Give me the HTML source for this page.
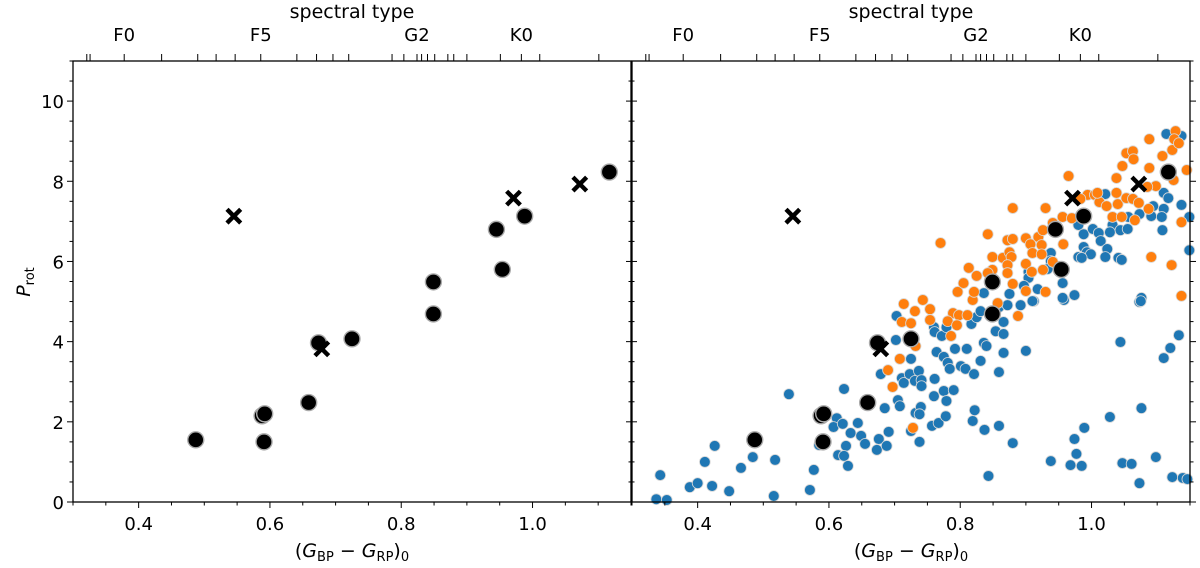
<!DOCTYPE html>
<html><head><meta charset="utf-8"><style>
html,body{margin:0;padding:0;background:#fff;}
svg{display:block;font-family:"DejaVu Sans","Liberation Sans",sans-serif;}
</style></head><body>
<svg id="chart" width="1200" height="568" viewBox="0 0 1200 568" xmlns="http://www.w3.org/2000/svg">
<g id="layer"></g>
</svg>
<script>
const xTickVals = [0.4, 0.6, 0.8, 1.0];
const xTickLabels = ["0.4", "0.6", "0.8", "1.0"];
const yTickVals = [0, 2, 4, 6, 8, 10];
const yTickLabels = ["0", "2", "4", "6", "8", "10"];
const specTickVals = [0.321,0.326,0.378,0.435,0.490,0.518,0.547,0.586,0.641,0.671,0.696,0.720,0.786,0.804,0.824,0.831,0.840,0.851,0.871,0.880,0.900,0.951,0.983,1.011,1.101];
const specLabelVals = [0.378, 0.586, 0.824, 0.983];
const specLabels = ["F0", "F5", "G2", "K0"];

const blackC = [0.487,0.588,0.592,0.591,0.659,0.674,0.725,0.849,0.849,0.945,0.954,0.988,1.117];
const blackP = [1.55,2.15,2.2,1.5,2.48,3.97,4.07,4.69,5.49,6.8,5.8,7.13,8.23];
const crossC = [0.545,0.679,0.971,1.072];
const crossP = [7.13,3.82,7.58,7.93];

const blueC = [0.337,0.353,0.343,0.388,0.400,0.422,0.411,0.426,0.448,0.466,0.484,0.518,0.516,0.539,0.577,0.571,0.585,0.612,0.607,0.621,0.623,0.633,0.626,0.614,0.623,0.629,0.644,0.649,0.655,0.673,0.676,0.688,0.691,0.685,0.705,0.708,0.679,0.711,0.714,0.703,0.702,0.725,0.723,0.725,
0.731,0.737,0.741,0.741,0.732,0.740,0.738,0.738,0.760,0.761,0.772,0.779,0.764,0.775,0.781,0.784,0.792,0.810,0.801,0.808,0.821,0.761,0.760,0.775,0.779,0.790,0.757,0.767,0.778,0.822,0.819,0.837,0.859,0.880,0.843,0.816,0.817,0.825,0.831,0.831,0.836,0.840,0.854,0.866,0.866,0.866,0.859,0.900,0.859,0.872,0.892,0.912,0.958,1.073,1.044,1.110,1.120,1.133,1.076,1.028,0.989,0.974,0.977,0.938,0.968,0.985,1.047,1.061,1.098,1.073,1.123,1.139,1.146,
1.114,1.137,1.021,1.110,1.117,1.137,1.094,1.110,1.091,1.107,1.073,1.056,1.032,1.044,1.055,1.028,1.108,1.149,0.980,0.988,1.002,1.011,1.014,0.988,0.993,0.999,0.980,0.985,1.024,1.021,1.041,1.046,0.938,0.938,0.933,0.904,0.904,0.897,0.918,0.956,0.974,0.956,0.836,0.875,0.910,1.076,1.075,1.149];
const blueP = [0.07,0.05,0.67,0.37,0.47,0.40,1.00,1.40,0.27,0.85,1.12,1.05,0.15,2.69,0.80,0.30,1.42,2.09,1.87,1.95,2.82,1.72,1.40,1.17,1.15,0.90,1.97,1.65,1.45,1.30,1.57,1.40,1.75,2.34,2.54,2.39,3.19,3.09,2.97,4.64,4.04,3.57,3.19,1.77,
3.02,3.27,3.04,2.89,2.22,2.37,2.19,1.50,4.36,4.24,4.14,4.36,3.74,3.62,3.47,3.32,3.82,3.82,3.39,3.32,3.19,3.07,2.64,2.77,2.52,2.79,1.90,1.97,2.14,2.29,2.02,1.80,1.90,1.47,0.65,4.59,4.44,4.61,4.76,3.52,3.97,3.89,4.26,4.49,4.19,3.72,3.24,3.77,4.86,4.91,4.91,5.01,5.04,4.99,3.99,3.59,3.84,4.16,2.34,2.12,1.85,1.57,1.20,1.02,0.92,0.90,0.97,0.95,1.12,0.47,0.62,0.60,0.57,
9.18,9.13,7.68,7.71,7.58,7.41,7.38,7.31,7.13,7.11,7.18,7.11,6.91,6.78,6.81,6.73,6.78,7.11,6.91,6.68,6.81,6.71,6.51,6.36,6.23,6.18,6.11,6.09,6.31,6.11,6.09,6.04,6.21,6.01,5.81,5.74,5.59,5.39,5.31,5.46,5.16,5.09,5.21,5.19,5.01,5.09,5.01,6.28];

const orangeC = [0.714,0.711,0.725,0.708,0.690,0.697,0.728,0.731,0.754,0.754,0.789,0.798,0.781,0.795,0.786,0.811,0.732,0.888,0.743,0.819,0.857,
0.770,0.842,0.880,0.930,0.965,0.872,0.880,0.900,0.907,0.919,0.926,0.941,0.956,0.970,0.957,0.924,0.910,0.924,0.849,0.865,0.875,0.878,0.872,0.872,0.900,0.909,0.926,0.941,0.849,0.842,0.813,0.825,0.805,0.796,0.821,0.880,0.900,0.930,0.994,1.005,1.012,1.023,1.040,1.053,1.063,1.072,1.038,1.047,1.053,1.063,1.064,1.088,1.088,1.108,1.123,1.128,1.126,1.133,1.145,1.125,1.098,1.085,1.032,1.046,1.066,1.087,1.137,1.091,1.122,1.137,1.038,1.009,0.983];
const orangeP = [4.94,4.49,4.46,3.57,3.29,2.87,1.85,4.76,4.81,4.54,4.71,4.66,4.51,4.41,4.14,4.66,3.89,4.64,5.04,5.04,4.96,
6.46,6.68,7.33,7.33,8.13,6.53,6.56,6.58,6.43,6.61,6.78,6.96,7.11,7.08,6.43,6.41,6.21,6.18,6.11,6.09,6.23,6.11,5.91,5.71,5.94,5.74,5.79,5.99,5.79,5.71,5.84,5.64,5.46,5.24,5.24,5.44,5.26,5.24,7.66,7.66,7.48,7.38,7.43,7.58,7.56,7.46,8.08,8.38,8.70,8.75,8.55,9.05,8.33,8.63,8.78,9.25,9.05,8.95,8.28,8.03,7.88,7.86,7.11,7.11,7.03,7.31,6.98,6.11,5.91,5.14,7.71,7.71,7.56];

const NS = "http://www.w3.org/2000/svg";
const layer = document.getElementById("layer");
const XMIN = 0.3, XMAX = 1.15, YMIN = 0, YMAX = 11;
const PW = 558, TOP = 61, BOT = 502;
function sx(c, off) { return off + (c - XMIN) / (XMAX - XMIN) * PW; }
function sy(p) { return BOT - (p - YMIN) / (YMAX - YMIN) * (BOT - TOP); }
function mk(tag, attrs, parent) {
  const e = document.createElementNS(NS, tag);
  for (const k in attrs) e.setAttribute(k, attrs[k]);
  (parent || layer).appendChild(e);
  return e;
}
function txt(s, x, y, size, anchor, parent) {
  const t = mk("text", {x: x, y: y, "font-size": size, "text-anchor": anchor || "middle", fill: "#000"}, parent);
  t.textContent = s;
  return t;
}

function panel(off, name, showY, showData) {
  const g = mk("g", {});
  
  
  const R = off + PW;
  if (showData) {
    const gb = mk("g", {}, g);
    
    
    for (let i = 0; i < blueC.length; i++) {
      const c = mk("circle", {cx: sx(blueC[i], off), cy: sy(blueP[i]), r: 5.4, fill: "#1f77b4", stroke: "#d8d8d8", "stroke-width": 0.8}, gb);
      
      
    }
    const go = mk("g", {}, g);
    
    
    for (let i = 0; i < orangeC.length; i++) {
      const c = mk("circle", {cx: sx(orangeC[i], off), cy: sy(orangeP[i]), r: 5.4, fill: "#ff7f0e", stroke: "#d8d8d8", "stroke-width": 0.8}, go);
      
      
    }
  }
  const gk = mk("g", {}, g);
  
  
  for (let i = 0; i < blackC.length; i++) {
    const c = mk("circle", {cx: sx(blackC[i], off), cy: sy(blackP[i]), r: 8, fill: "#000", stroke: "#aaa", "stroke-width": 1.4}, gk);
    
    
  }
  const gx = mk("g", {}, g);
  
  
  for (let i = 0; i < crossC.length; i++) {
    const x = sx(crossC[i], off), y = sy(crossP[i]), d = 5.3;
    const p = mk("path", {d: `M${x-d},${y-d}L${x+d},${y+d}M${x-d},${y+d}L${x+d},${y-d}`, stroke: "#000", "stroke-width": 4.4, "stroke-linecap": "square", fill: "none"}, gx);
    
    
  }
  const fr = mk("rect", {x: off, y: TOP, width: PW, height: BOT - TOP, fill: "none", stroke: "#000", "stroke-width": 1.3}, g);
  
  
  for (let k = 0; k <= 17; k++) {
    const c = XMIN + k * 0.05;
    const major = xTickVals.some(v => Math.abs(v - c) < 1e-6);
    const x = sx(c, off);
    mk("line", {x1: x, x2: x, y1: BOT, y2: BOT + (major ? 6 : 3.5), stroke: "#000", "stroke-width": 1}, g);
  }
  xTickVals.forEach((v, i) => {
    const t = txt(xTickLabels[i], sx(v, off), 530, 18, "middle", g);
    
    
  });
  for (let k = 0; k <= 22; k++) {
    const p = k * 0.5;
    const major = yTickVals.indexOf(p) >= 0;
    const y = sy(p), L = major ? 6 : 3.5;
    mk("line", {x1: off - L, x2: off, y1: y, y2: y, stroke: "#000", "stroke-width": 1}, g);
    mk("line", {x1: R, x2: R + L, y1: y, y2: y, stroke: "#000", "stroke-width": 1}, g);
  }
  if (showY) {
    yTickVals.forEach((v, i) => {
      const t = txt(yTickLabels[i], off - 9, sy(v) + 7, 18, "end", g);
      
      
    });
  }
  specTickVals.forEach(v => {
    const x = sx(v, off);
    mk("line", {x1: x, x2: x, y1: TOP, y2: TOP - 7, stroke: "#000", "stroke-width": 1}, g);
  });
  specLabelVals.forEach((v, i) => {
    const t = txt(specLabels[i], sx(v, off), 41, 18, "middle", g);
    
    
  });
  const st = txt("spectral type", off + 279, 18, 19, "middle", g);
  
  
  const xt = mk("text", {x: off + 279, y: 557, "font-size": 19, "text-anchor": "middle"}, g);
  
  
  xt.innerHTML = '(<tspan font-style="italic">G</tspan><tspan font-size="13" dy="4">BP</tspan><tspan dy="-4"> − </tspan><tspan font-style="italic">G</tspan><tspan font-size="13" dy="4">RP</tspan><tspan dy="-4">)</tspan><tspan font-size="13" dy="4">0</tspan>';
}

panel(73, "left-panel", true, false);
panel(632, "right-panel", false, true);

const yl = mk("text", {x: 0, y: 0, "font-size": 19, "text-anchor": "middle", transform: "translate(30,282) rotate(-90)"});


yl.innerHTML = '<tspan font-style="italic">P</tspan><tspan font-size="13" dy="4">rot</tspan>';
</script>
</body></html>
